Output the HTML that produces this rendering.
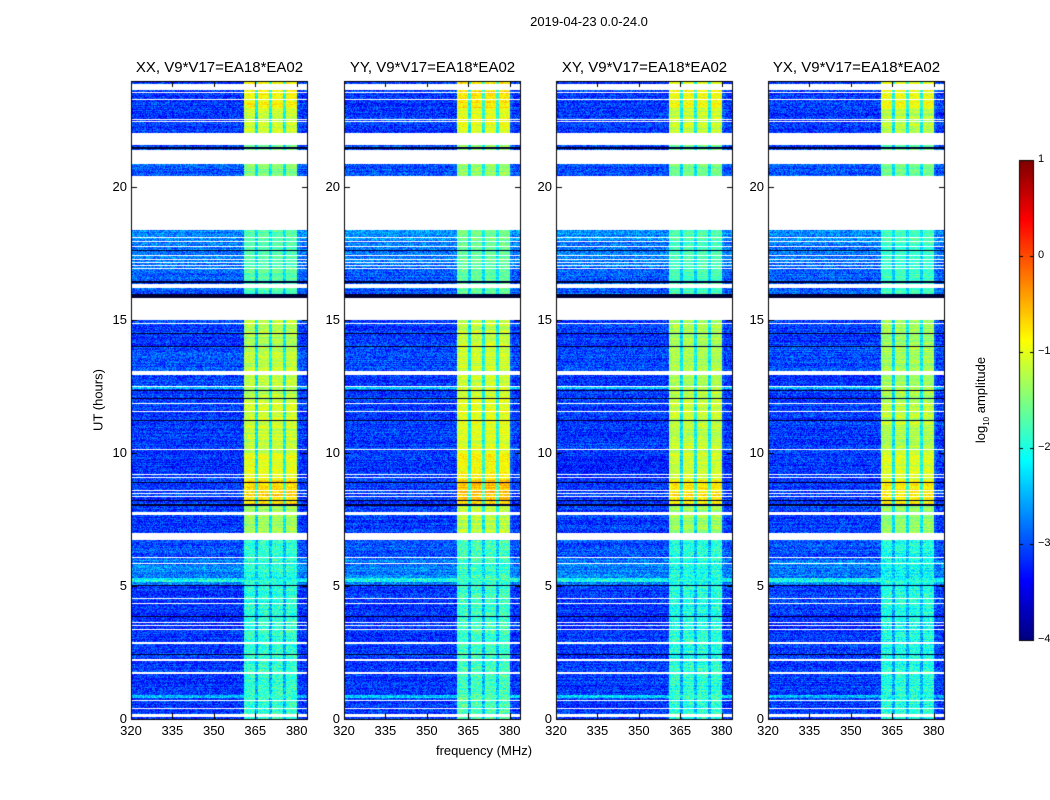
<!DOCTYPE html>
<html><head><meta charset="utf-8">
<style>
body{margin:0;background:#fff;width:1050px;height:800px;overflow:hidden;font-family:"Liberation Sans",sans-serif}
#wrap{position:relative;width:1050px;height:800px}
canvas{position:absolute;left:0;top:0}
.t{position:absolute;font-size:13px;color:#000;white-space:nowrap}
</style></head><body>
<div id="wrap">
<canvas id="c" width="1050" height="800"></canvas>
<div id="labels"></div>
</div>
<script>
// ---- data ----
const panelTitles = ["XX, V9*V17=EA18*EA02","YY, V9*V17=EA18*EA02","XY, V9*V17=EA18*EA02","YX, V9*V17=EA18*EA02"];
const panelOffsets = [0, 0.1, -0.05, -0.1];
const hourTicks = [0,5,10,15,20];
const freqTicks = [320,335,350,365,380];
const cbTicks = [1,0,-1,-2,-3,-4];
// band level (log10 amp) per hour 0..23
const bandLevel = [-1.85,-1.85,-1.9,-1.9,-1.9,-1.95,-1.9,-1.3,-0.7,-1.0,-1.15,-1.1,-1.2,-1.2,-1.25,-1.6,-1.7,-1.75,-1.7,-1.7,-1.5,-1.5,-1.1,-0.85];
// background level per hour
const bgLevel = [-3.1,-3.1,-3.1,-3.15,-3.1,-2.75,-3.0,-3.1,-3.1,-3.15,-3.1,-3.1,-3.1,-3.0,-3.1,-2.9,-2.9,-2.8,-2.7,-2.7,-3.0,-3.0,-3.1,-3.1];
// band weight per MHz channel starting 320
const chanWeight = [0,0,0,0,0,0,0,0,0,0,0,0,0,0,0,0,0,0,0,0,0,0,0,0,0,0,0,0,0,0,0,0,0,0,0,0,0,0,0,0,0,0.95,1,1,1,0.45,1,1,1,1,0.5,1,1,1,1,0.5,1,1,1,1,0.1,0,0,0];
// flagged (white) intervals in hours
const flags = [[23.65,23.87],[23.54,23.58],[23.29,23.33],[22.54,22.58],[22.46,22.5],[21.58,22.03],[20.86,21.39],[18.38,20.41],[18.1,18.14],[17.95,17.99],[17.76,17.8],[17.42,17.46],[17.27,17.31],[17.16,17.2],[17.05,17.09],[16.93,16.97],[16.2,16.35],[15.0,15.82],[14.87,14.91],[12.93,13.08],[12.5,12.54],[11.86,11.9],[11.56,11.6],[10.13,10.17],[9.19,9.23],[9.08,9.12],[8.59,8.63],[8.48,8.52],[8.36,8.4],[7.67,7.78],[6.73,6.99],[6.07,6.11],[5.84,5.88],[4.53,4.57],[4.34,4.38],[3.6,3.65],[3.5,3.54],[3.35,3.4],[2.84,2.88],[2.2,2.24],[1.71,1.75],[0.69,0.73],[0.39,0.43],[0.13,0.17],[0.06,0.1]];
// black (zero) lines in hours
const blackLines = [[21.45,21.5],[19.63,19.68],[19.49,19.54],[17.61,17.66],[16.4,16.47],[15.82,15.98],[14.49,14.53],[14.0,14.04],[12.35,12.39],[12.05,12.09],[11.22,11.26],[8.89,8.93],[8.21,8.25],[8.03,8.07],[5.0,5.03],[3.85,3.89],[2.39,2.43]];
// bright rows (hours) with elevated background
const brightRows = [[5.15,5.3],[12.4,12.5],[0.8,0.9]];

// ---- geometry ----
const panelX = [131,344,556,768];
const PW = 177, PY0 = 81, PY1 = 719;
const fMin = 320, fMax = 384.1;
const yOf = h => PY1 - (h/24)*(PY1-PY0);
const xOf = (i,f) => panelX[i] + (f-fMin)/(fMax-fMin)*PW;

function jet(t){
  t=Math.max(0,Math.min(1,t));
  const r=Math.max(0,Math.min(1,1.5-Math.abs(4*t-3)));
  const g=Math.max(0,Math.min(1,1.5-Math.abs(4*t-2)));
  const b=Math.max(0,Math.min(1,1.5-Math.abs(4*t-1)));
  return [r*255,g*255,b*255];
}
function hash(a,b){let n=a*374761393+b*668265263;n=(n^(n>>>13))*1274126177;n=n^(n>>>16);return ((n>>>0)%10000)/10000;}
const inAny=(arr,h)=>arr.some(r=>h>=r[0]&&h<=r[1]);

const c=document.getElementById('c');const ctx=c.getContext('2d');
ctx.fillStyle='#fff';ctx.fillRect(0,0,1050,800);
for(let p=0;p<4;p++){
  const img=ctx.createImageData(PW,PY1-PY0);
  for(let y=0;y<PY1-PY0;y++){
    const h=(PY1-(PY0+y+0.5))/(PY1-PY0)*24;
    const hi=Math.min(23,Math.floor(h));
    const white=inAny(flags,h), black=inAny(blackLines,h), bright=inAny(brightRows,h);
    const rowN=(hash(y,p+7)-0.5)*0.3;
    for(let x=0;x<PW;x++){
      const f=fMin+(x+0.5)/PW*(fMax-fMin);
      const ci=Math.min(chanWeight.length-1,Math.floor(f-fMin));
      let col;
      if(white) col=[255,255,255];
      else if(black) col=[0,0,50];
      else{
        const w=chanWeight[ci];
        const bg=bgLevel[hi]+(bright?0.7:0);
        const bd=bandLevel[hi]+panelOffsets[p];
        const nz=hi<7?0.75:0.45;
        const v=bg+(bd-bg)*w+(hash(x*31+p,y)-0.5)*(w>0?nz:0.8)+rowN;
        col=jet((v+4)/5);
      }
      const k=(y*PW+x)*4;
      img.data[k]=col[0];img.data[k+1]=col[1];img.data[k+2]=col[2];img.data[k+3]=255;
    }
  }
  ctx.putImageData(img,panelX[p],PY0);
  ctx.strokeStyle='#000';ctx.lineWidth=1;
  ctx.strokeRect(panelX[p]+0.5,PY0+0.5,PW-1,PY1-PY0);
  ctx.beginPath();
  hourTicks.forEach(h=>{const y=Math.round(yOf(h))+0.5;ctx.moveTo(panelX[p],y);ctx.lineTo(panelX[p]+6,y);ctx.moveTo(panelX[p]+PW,y);ctx.lineTo(panelX[p]+PW-6,y);});
  freqTicks.forEach(f=>{const x=Math.round(xOf(p,f))+0.5;ctx.moveTo(x,PY1);ctx.lineTo(x,PY1-6);ctx.moveTo(x,PY0);ctx.lineTo(x,PY0+6);});
  ctx.stroke();
}
// colorbar
const CBX=1019,CBW=15,CBY0=160,CBY1=640;
for(let y=CBY0;y<CBY1;y++){const col=jet(1-(y-CBY0)/(CBY1-CBY0));ctx.fillStyle=`rgb(${col[0]|0},${col[1]|0},${col[2]|0})`;ctx.fillRect(CBX,y,CBW,1);}
ctx.strokeStyle='#000';ctx.strokeRect(CBX+0.5,CBY0+0.5,CBW-1,CBY1-CBY0);
const cbY=v=>CBY0+(1-v)/5*(CBY1-CBY0);
ctx.beginPath();cbTicks.forEach(v=>{const y=Math.round(cbY(v))+0.5;ctx.moveTo(CBX+CBW-4,y);ctx.lineTo(CBX+CBW,y);ctx.moveTo(CBX,y);ctx.lineTo(CBX+4,y);});ctx.stroke();

// labels
const L=document.getElementById('labels');
function lab(txt,x,y,name,extra){const d=document.createElement('div');d.className='t';d.textContent=txt;d.style.left=x+'px';d.style.top=y+'px';if(extra)d.style.cssText+=extra;


L.appendChild(d);return d;}
lab("2019-04-23 0.0-24.0",589,14,'chart-title','transform:translateX(-50%)');
for(let p=0;p<4;p++){
  lab(panelTitles[p],panelX[p]+PW/2,59,'panel-title','transform:translateX(-50%);font-size:15px');
  hourTicks.forEach(h=>lab(String(h),panelX[p]-4,yOf(h)-8,'y-tick-label','transform:translateX(-100%)'));
  freqTicks.forEach(f=>lab(String(f),xOf(p,f),723,'x-tick-label','transform:translateX(-50%)'));
}
lab("frequency (MHz)",484,743,'x-axis-title','transform:translateX(-50%)');
lab("UT (hours)",98,400,'y-axis-title','transform:translate(-50%,-50%) rotate(-90deg)');
cbTicks.forEach(v=>lab(v<0?'\u2212'+(-v):String(v),1038,cbY(v)-7,'colorbar-tick-label','font-size:11px'));
const cl=lab("",982,400,'colorbar-title','transform:translate(-50%,-50%) rotate(-90deg)');
cl.innerHTML='log<sub style="font-size:8px">10</sub> amplitude';
</script>
</body></html>
